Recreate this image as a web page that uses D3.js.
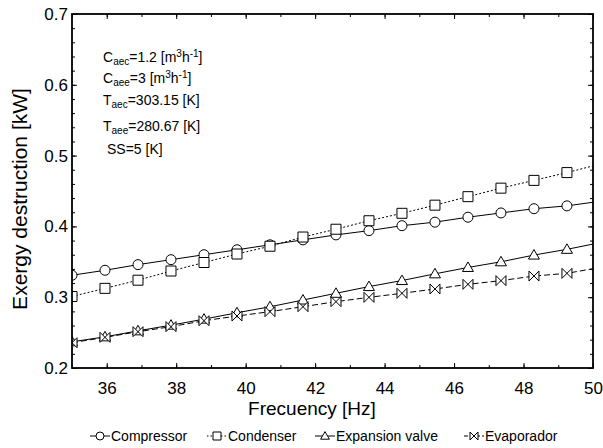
<!DOCTYPE html>
<html>
<head>
<meta charset="utf-8">
<script src="https://cdn.jsdelivr.net/npm/d3@7"></script>
<style>
	body{margin:0;background:#fff;}
	text{font-family:"Liberation Sans",Arial,sans-serif;fill:#000;}
</style>
</head>
<body>
<svg id="chart" width="603" height="448"></svg>
<script>
// frequencies [Hz]; last point only carries the line to the right border
var freq = [35,35.95,36.9,37.85,38.8,39.75,40.7,41.65,42.6,43.55,44.5,45.45,46.4,47.35,48.3,49.25,50.2];
var compressor = [0.331,0.338,0.346,0.353,0.360,0.367,0.374,0.381,0.388,0.394,0.401,0.406,0.413,0.419,0.425,0.429,0.4355];
var condenser = [0.301,0.3125,0.324,0.337,0.349,0.361,0.372,0.385,0.396,0.408,0.4185,0.430,0.442,0.454,0.465,0.476,0.488];
var expansion = [0.237,0.244,0.2525,0.2605,0.269,0.278,0.2865,0.296,0.3055,0.315,0.3235,0.333,0.342,0.350,0.3595,0.3676,0.377];
var evaporator = [0.2357,0.2433,0.2513,0.2584,0.2668,0.2734,0.2796,0.2866,0.2937,0.2998,0.3055,0.3116,0.3182,0.3234,0.3299,0.3337,0.342];

var seriesNames = ["Compressor","Condenser","Expansion valve","Evaporador"];
var xTicks = [36,38,40,42,44,46,48,50];
var xMinor = [35,36,37,38,39,40,41,42,43,44,45,46,47,48,49,50];
var yTicks = [0.2,0.3,0.4,0.5,0.6,0.7];
var yMinor = [0.2,0.22,0.24,0.26,0.28,0.3,0.32,0.34,0.36,0.38,0.4,0.42,0.44,0.46,0.48,0.5,0.52,0.54,0.56,0.58,0.6,0.62,0.64,0.66,0.68,0.7];

var L = 72, R = 593, T = 14, B = 368;

var svg = d3.select('#chart');
var x = d3.scaleLinear().domain([35,50]).range([L,R]);
var y = d3.scaleLinear().domain([0.2,0.7]).range([B,T]);

var series = [
	{name:seriesNames[0],values:compressor,marker:"circle",dash:null,legendDash:null,legendX:100},
	{name:seriesNames[1],values:condenser,marker:"square",dash:"2,2",legendDash:"1.5,2",legendX:217},
	{name:seriesNames[2],values:expansion,marker:"triangle",dash:null,legendDash:null,legendX:325},
	{name:seriesNames[3],values:evaporator,marker:"bowtie",dash:"6,3",legendDash:"4,2",legendX:474}
];

//marker outline, centered on 0,0
var markerPath = function(type,s){
	if(type=="circle"){
		var p = d3.path();
		p.arc(0,0,s,0,2*Math.PI);
		return p.toString();
	}
	if(type=="square"){
		return "M"+(-s)+","+(-s)+"H"+s+"V"+s+"H"+(-s)+"Z";
	}
	if(type=="triangle"){
		return "M0,"+(-s*1.1)+"L"+(s*1.1)+","+(s*0.8)+"H"+(-s*1.1)+"Z";
	}
	return "M"+(-s)+","+(-s)+"L"+s+","+s+"V"+(-s)+"L"+(-s)+","+s+"Z";
};

svg.append('defs').append('clipPath')
	.attr("id","plotclip")
	.append('rect')
	.attr("x",L).attr("y",T)
	.attr("width",R-L).attr("height",B-T);

//ticks, all pointing inwards
var tickAxis = function(axis,transform,labels){
	var g = svg.append('g').attr("transform",transform).call(axis);
	g.select('.domain').remove();
	g.selectAll('line').attr("stroke","#000").attr("stroke-width",1);
	if(!labels) g.selectAll('text').remove();
	return g;
};
tickAxis(d3.axisBottom(x).tickValues(xMinor).tickSizeInner(-3).tickSizeOuter(0).tickFormat(""),"translate(0,"+B+")",false);
tickAxis(d3.axisTop(x).tickValues(xMinor).tickSizeInner(-3).tickSizeOuter(0).tickFormat(""),"translate(0,"+T+")",false);
tickAxis(d3.axisLeft(y).tickValues(yMinor).tickSizeInner(-3).tickSizeOuter(0).tickFormat(""),"translate("+L+",0)",false);
tickAxis(d3.axisRight(y).tickValues(yMinor).tickSizeInner(-3).tickSizeOuter(0).tickFormat(""),"translate("+R+",0)",false);
tickAxis(d3.axisTop(x).tickValues(xTicks).tickSizeInner(-5).tickSizeOuter(0).tickFormat(""),"translate(0,"+T+")",false);
tickAxis(d3.axisRight(y).tickValues(yTicks).tickSizeInner(-5).tickSizeOuter(0).tickFormat(""),"translate("+R+",0)",false);

var xg = tickAxis(d3.axisBottom(x).tickValues(xTicks).tickSizeInner(-5).tickSizeOuter(0).tickPadding(14).tickFormat(d3.format("d")),"translate(0,"+B+")",true);
xg.selectAll('text').attr("font-size",17).attr("font-family",null);
var yg = tickAxis(d3.axisLeft(y).tickValues(yTicks).tickSizeInner(-5).tickSizeOuter(0).tickPadding(4).tickFormat(d3.format(".1f")),"translate("+L+",0)",true);
yg.selectAll('text').attr("font-size",17).attr("font-family",null);

//lines and markers
var line = d3.line()
	.x(function(d){ return x(d.f); })
	.y(function(d){ return y(d.v); });

var plot = svg.append('g').attr("clip-path","url(#plotclip)");
series.forEach(function(s){
	var pts = freq.map(function(f,i){ return {f:f,v:s.values[i]}; });
	plot.append('path')
		.datum(pts)
		.attr("d",line)
		.attr("fill","none")
		.attr("stroke","#000")
		.attr("stroke-width",1)
		.attr("stroke-dasharray",s.dash);
	plot.selectAll(null)
		.data(pts)
		.enter()
		.append('path')
		.attr("transform",function(d){
			return "translate("+x(d.f)+","+y(d.v)+")";
		})
		.attr("d",markerPath(s.marker,5))
		.attr("fill","#fff")
		.attr("stroke","#000")
		.attr("stroke-width",1);
});

//frame
svg.append('rect')
	.attr("x",L).attr("y",T)
	.attr("width",R-L).attr("height",B-T)
	.attr("fill","none")
	.attr("stroke","#000")
	.attr("stroke-width",1.8);

//axis titles
svg.append('text')
	.attr("x",312).attr("y",415)
	.attr("text-anchor","middle")
	.attr("font-size",19)
	.text("Frecuency [Hz]");
svg.append('text')
	.attr("transform","translate(27,199) rotate(-90)")
	.attr("text-anchor","middle")
	.attr("font-size",21)
	.text("Exergy destruction [kW]");

//operating conditions
var notes = [
	{y:62,x:103,parts:[["C",""],["aec","sub"],["=1.2 [m",""],["3","sup"],["h",""],["-1","sup"],["]",""]]},
	{y:83,x:103,parts:[["C",""],["aee","sub"],["=3 [m",""],["3","sup"],["h",""],["-1","sup"],["]",""]]},
	{y:105,x:103,parts:[["T",""],["aec","sub"],["=303.15 [K]",""]]},
	{y:131,x:103,parts:[["T",""],["aee","sub"],["=280.67 [K]",""]]},
	{y:154,x:107,parts:[["SS=5 [K]",""]]}
];
notes.forEach(function(n){
	var t = svg.append('text')
		.attr("x",n.x).attr("y",n.y)
		.attr("font-size",14);
	var shift = 0;
	n.parts.forEach(function(p){
		var target = p[1]=="sub" ? 3 : (p[1]=="sup" ? -5 : 0);
		t.append('tspan')
			.attr("dy",target-shift)
			.attr("font-size",p[1]=="" ? 14 : 10)
			.text(p[0]);
		shift = target;
	});
});

//legend
var lg = svg.append('g');
series.forEach(function(s){
	var cx = s.legendX, cy = 436;
	lg.append('line')
		.attr("x1",cx-10).attr("x2",cx+10)
		.attr("y1",cy).attr("y2",cy)
		.attr("stroke","#000")
		.attr("stroke-width",1)
		.attr("stroke-dasharray",s.legendDash);
	lg.append('path')
		.attr("transform","translate("+cx+","+cy+")")
		.attr("d",markerPath(s.marker,4))
		.attr("fill","#fff")
		.attr("stroke","#000");
	lg.append('text')
		.attr("x",cx+11).attr("y",cy+5)
		.attr("font-size",14)
		.text(s.name);
});
</script>
</body>
</html>
